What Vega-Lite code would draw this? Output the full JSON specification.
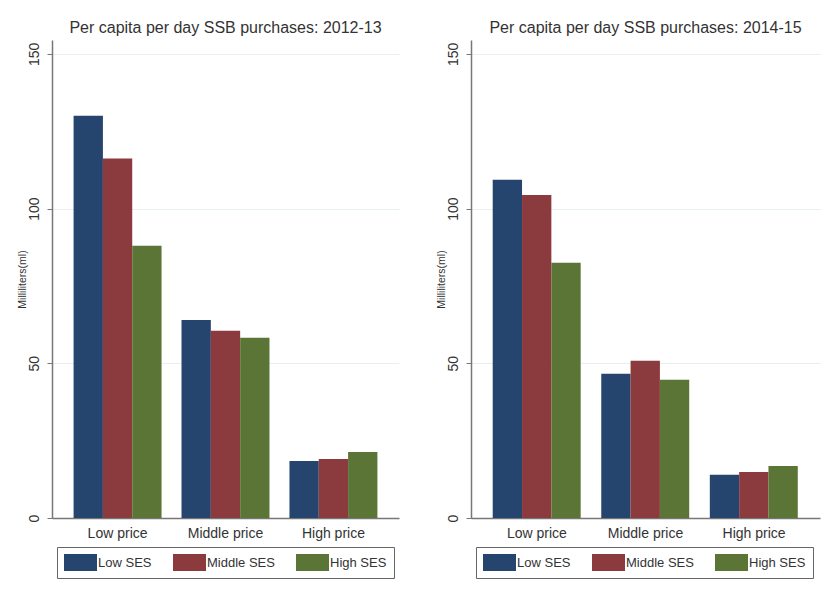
{
  "$schema": "https://vega.github.io/schema/vega-lite/v6.json",
  "background": "white",
  "padding": {"top": 20, "left": 17, "right": 5, "bottom": 5},
  "spacing": 37,
  "data": {
    "values": [
      {"period": "2012-13", "price": "Low price", "ses": "Low SES", "ml": 130.0},
      {"period": "2012-13", "price": "Low price", "ses": "Middle SES", "ml": 116.2},
      {"period": "2012-13", "price": "Low price", "ses": "High SES", "ml": 88.0},
      {"period": "2012-13", "price": "Middle price", "ses": "Low SES", "ml": 64.0},
      {"period": "2012-13", "price": "Middle price", "ses": "Middle SES", "ml": 60.5},
      {"period": "2012-13", "price": "Middle price", "ses": "High SES", "ml": 58.3},
      {"period": "2012-13", "price": "High price", "ses": "Low SES", "ml": 18.4},
      {"period": "2012-13", "price": "High price", "ses": "Middle SES", "ml": 19.1},
      {"period": "2012-13", "price": "High price", "ses": "High SES", "ml": 21.3},
      {"period": "2014-15", "price": "Low price", "ses": "Low SES", "ml": 109.3},
      {"period": "2014-15", "price": "Low price", "ses": "Middle SES", "ml": 104.4},
      {"period": "2014-15", "price": "Low price", "ses": "High SES", "ml": 82.5},
      {"period": "2014-15", "price": "Middle price", "ses": "Low SES", "ml": 46.6},
      {"period": "2014-15", "price": "Middle price", "ses": "Middle SES", "ml": 50.8},
      {"period": "2014-15", "price": "Middle price", "ses": "High SES", "ml": 44.7},
      {"period": "2014-15", "price": "High price", "ses": "Low SES", "ml": 14.0},
      {"period": "2014-15", "price": "High price", "ses": "Middle SES", "ml": 14.9},
      {"period": "2014-15", "price": "High price", "ses": "High SES", "ml": 16.8}
    ]
  },
  "config": {
    "font": "Liberation Sans",
    "view": {"stroke": null},
    "axis": {"labelColor": "#333", "titleColor": "#333", "domainColor": "#777", "domainWidth": 1.5, "tickColor": "#777"},
    "legend": {
      "orient": "none",
      "direction": "horizontal",
      "legendX": 5,
      "legendY": 507,
      "symbolType": "M-1,-0.515H1V0.515H-1Z",
      "symbolSize": 1089,
      "symbolStrokeWidth": 0,
      "clipHeight": 17,
      "labelFontSize": 13,
      "labelColor": "#333",
      "labelOffset": 1,
      "columnPadding": 21,
      "padding": 7,
      "strokeColor": "#666",
      "fillColor": "white",
      "title": null
    }
  },
  "resolve": {"legend": {"color": "independent"}, "scale": {"color": "independent"}},
  "hconcat": [
    {
      "width": 347,
      "height": 478,
      "title": {"text": "Per capita per day SSB purchases: 2012-13", "fontSize": 16, "fontWeight": "normal", "color": "#333", "offset": 4},
      "transform": [{"filter": "datum.period === '2012-13'"}],
      "mark": {"type": "bar"},
      "encoding": {
        "x": {"field": "price", "type": "nominal", "sort": ["Low price", "Middle price", "High price"],
          "scale": {"paddingInner": 0.185, "paddingOuter": 0.2},
          "axis": {"title": null, "labelAngle": 0, "labelFontSize": 14, "ticks": false, "labelPadding": 8}},
        "xOffset": {"field": "ses", "type": "nominal", "sort": ["Low SES", "Middle SES", "High SES"], "scale": {"paddingInner": 0, "paddingOuter": 0}},
        "y": {"field": "ml", "type": "quantitative",
          "scale": {"domain": [0, 154.5], "nice": false, "zero": true},
          "axis": {"title": "Milliliters(ml)", "titleFontSize": 10.5, "titleFontWeight": "normal", "titlePadding": 0,
            "values": [0, 50, 100, 150], "labelAngle": -90, "labelFontSize": 14, "tickSize": 5, "labelPadding": 5.5,
            "grid": true, "gridColor": "#e6eff1", "gridWidth": 1}},
        "color": {"field": "ses", "type": "nominal", "sort": ["Low SES", "Middle SES", "High SES"],
          "scale": {"domain": ["Low SES", "Middle SES", "High SES"], "range": ["#26456e", "#8b3a3e", "#5a7536"]},
          "legend": {"title": null}}
      }
    },
    {
      "width": 349,
      "height": 478,
      "title": {"text": "Per capita per day SSB purchases: 2014-15", "fontSize": 16, "fontWeight": "normal", "color": "#333", "offset": 4},
      "transform": [{"filter": "datum.period === '2014-15'"}],
      "mark": {"type": "bar"},
      "encoding": {
        "x": {"field": "price", "type": "nominal", "sort": ["Low price", "Middle price", "High price"],
          "scale": {"paddingInner": 0.185, "paddingOuter": 0.2},
          "axis": {"title": null, "labelAngle": 0, "labelFontSize": 14, "ticks": false, "labelPadding": 8}},
        "xOffset": {"field": "ses", "type": "nominal", "sort": ["Low SES", "Middle SES", "High SES"], "scale": {"paddingInner": 0, "paddingOuter": 0}},
        "y": {"field": "ml", "type": "quantitative",
          "scale": {"domain": [0, 154.5], "nice": false, "zero": true},
          "axis": {"title": "Milliliters(ml)", "titleFontSize": 10.5, "titleFontWeight": "normal", "titlePadding": 0,
            "values": [0, 50, 100, 150], "labelAngle": -90, "labelFontSize": 14, "tickSize": 5, "labelPadding": 5.5,
            "grid": true, "gridColor": "#e6eff1", "gridWidth": 1}},
        "color": {"field": "ses", "type": "nominal", "sort": ["Low SES", "Middle SES", "High SES"],
          "scale": {"domain": ["Low SES", "Middle SES", "High SES"], "range": ["#26456e", "#8b3a3e", "#5a7536"]},
          "legend": {"title": null}}
      }
    }
  ]
}
